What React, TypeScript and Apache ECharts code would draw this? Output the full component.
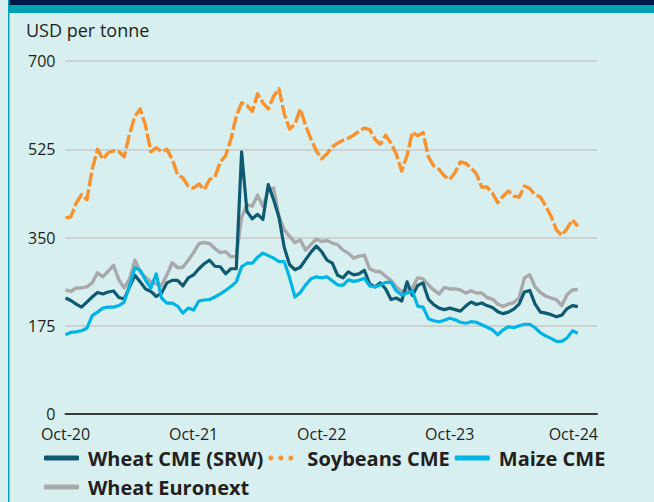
import React, { useEffect, useRef } from "react";
import * as echarts from "echarts";

// Half-monthly readings from Oct-2020 (index 0) to Oct-2024 (index 96), USD per tonne
const wheatCME = [
  230, 225, 218, 212, 222, 232, 241, 238, 242, 244, 231, 228, 252, 275, 262, 248, 243, 233, 240, 260,
  265, 265, 254, 270, 276, 288, 298, 305, 293, 292, 278, 288, 288, 520, 402, 387, 396, 386, 455, 425,
  390, 330, 296, 286, 291, 306, 321, 333, 322, 305, 299, 275, 270, 282, 276, 278, 285, 258, 252, 260,
  248, 227, 230, 224, 262, 235, 255, 260, 228, 217, 210, 207, 210, 207, 204, 214, 222, 217, 220, 215,
  211, 203, 199, 202, 208, 218, 242, 245, 218, 202, 200, 197, 193, 196, 209, 215, 213,
];
const soybeansCME = [
  389, 391, 418, 435, 425, 485, 525, 505, 518, 522, 520, 510, 555, 590, 605, 572, 520, 528, 520, 525,
  505, 475, 468, 452, 448, 456, 445, 465, 470, 500, 512, 545, 590, 617, 612, 600, 635, 617, 605, 630,
  645, 595, 565, 575, 605, 572, 545, 522, 506, 516, 530, 537, 543, 547, 553, 561, 567, 564, 545, 535,
  553, 537, 515, 482, 512, 559, 552, 558, 510, 492, 485, 472, 465, 479, 500, 497, 488, 476, 450, 450,
  438, 419, 432, 442, 432, 430, 452, 447, 435, 430, 412, 392, 365, 354, 368, 385, 372,
];
const maizeCME = [
  157, 162, 163, 165, 170, 195, 202, 210, 212, 212, 215, 222, 255, 290, 285, 265, 250, 278, 230, 220,
  220, 214, 200, 210, 206, 224, 226, 227, 232, 238, 245, 253, 262, 292, 299, 299, 311, 319, 314, 309,
  302, 302, 270, 232, 241, 256, 268, 272, 270, 272, 264, 256, 255, 266, 263, 265, 269, 254, 252, 256,
  261, 261, 244, 236, 240, 244, 214, 212, 189, 185, 183, 186, 190, 187, 182, 180, 183, 182, 177, 172,
  167, 157, 167, 173, 171, 175, 178, 178, 171, 161, 155, 150, 144, 144, 151, 165, 160,
];
const wheatEuronext = [
  246, 243, 250, 250, 252, 260, 280, 272, 283, 295, 266, 250, 268, 305, 282, 271, 262, 258, 255, 276,
  300, 290, 291, 305, 320, 338, 340, 338, 328, 320, 322, 312, 312, 390, 415, 412, 434, 412, 444, 448,
  392, 365, 352, 340, 345, 325, 336, 347, 342, 344, 339, 336, 325, 319, 309, 313, 315, 288, 283, 282,
  273, 265, 252, 243, 246, 250, 270, 268, 256, 246, 238, 251, 248, 248, 246, 240, 244, 240, 240, 231,
  228, 218, 213, 218, 221, 230, 270, 276, 252, 241, 234, 230, 227, 215, 237, 246, 247,
];
const yTicks = [0, 175, 350, 525, 700];
const xTickLabels = ["Oct-20", "Oct-21", "Oct-22", "Oct-23", "Oct-24"];
const seriesNames = ["Wheat CME (SRW)", "Soybeans CME", "Maize CME", "Wheat Euronext"];

const toPairs = (arr: number[]) => arr.map((v, i) => [i * 0.5, v]);

const FONT = "'Open Sans', 'Noto Sans', sans-serif";
const TXT = "#231f20";
const DOTS_ICON =
  "path://M2.5,0A2.5,2.5,0,1,1,2.49,0ZM12.5,0A2.5,2.5,0,1,1,12.49,0ZM22.5,0A2.5,2.5,0,1,1,22.49,0Z";

export default function App() {
  const ref = useRef<HTMLDivElement>(null);
  useEffect(() => {
    if (!ref.current) return;
    const chart = echarts.init(ref.current, null, { renderer: "svg" });
    const colors = {
      wheat: "#0f5a73",
      soy: "#f7922f",
      maize: "#00b4e6",
      euro: "#a9a9ab",
    };
    chart.setOption({
      animation: false,
      backgroundColor: "#d8efef",
      textStyle: { fontFamily: FONT },
      title: {
        text: "USD per tonne",
        left: 26,
        top: 21,
        padding: 0,
        textStyle: { fontFamily: FONT, fontSize: 18, fontWeight: "normal", color: TXT },
      },
      graphic: [
        { type: "rect", left: 9, top: 0, shape: { width: 645, height: 5 }, style: { fill: "#00184a" }, silent: true },
        { type: "rect", left: 9, top: 5, shape: { width: 645, height: 8 }, style: { fill: "#00a2b1" }, silent: true },
        { type: "rect", left: 8, top: 0, shape: { width: 1.5, height: 502 }, style: { fill: "#00a2b1" }, silent: true },
      ],
      grid: { left: 65.5, right: 57, top: 61, bottom: 88, containLabel: false },
      xAxis: {
        type: "value",
        min: 0,
        max: 49.8,
        interval: 12,
        axisLine: { show: true, lineStyle: { color: "#3a3a3a", width: 2 } },
        axisTick: { show: false },
        splitLine: { show: false },
        axisLabel: {
          margin: 12,
          fontSize: 16,
          lineHeight: 16,
          fontFamily: FONT,
          color: TXT,
          showMaxLabel: true,
          formatter: (v: number) => {
            if (Math.abs(v % 12) > 1e-6) return "";
            const idx = Math.round(v / 12);
            const t = xTickLabels[idx] ?? "";
            return idx === xTickLabels.length - 1 ? "{r|" + t + "}" : t;
          },
          rich: { r: { fontSize: 16, lineHeight: 16, fontFamily: FONT, color: TXT, padding: [0, 9, 0, 0] } },
        },
      },
      yAxis: {
        type: "value",
        min: yTicks[0],
        max: yTicks[yTicks.length - 1],
        interval: 175,
        axisLine: { show: false },
        axisTick: { show: false },
        splitLine: { show: true, lineStyle: { color: "#c8c8c8", width: 1.5 } },
        axisLabel: { margin: 10, fontSize: 16, lineHeight: 14, fontFamily: FONT, color: TXT },
      },
      legend: {
        left: 44,
        top: 446,
        width: 590,
        padding: 0,
        itemGap: 5,
        itemWidth: 35,
        itemHeight: 5,
        symbolKeepAspect: true,
        textStyle: { fontFamily: FONT, fontSize: 20, fontWeight: "bold", color: TXT, lineHeight: 24, padding: [0, 0, 0, 4] },
        data: [
          { name: seriesNames[0], icon: "roundRect", itemStyle: { color: "#0f5a73" } },
          { name: seriesNames[1], icon: DOTS_ICON, itemStyle: { color: "#f7922f" } },
          { name: seriesNames[2], icon: "roundRect", itemStyle: { color: "#00b4e6" } },
          { name: seriesNames[3], icon: "roundRect", itemStyle: { color: "#a9a9ab" } },
        ],
      },
      series: [
        {
          name: seriesNames[3],
          type: "line",
          data: toPairs(wheatEuronext),
          showSymbol: false,
          symbol: "none",
          color: colors.euro,
          lineStyle: { width: 3.4, color: colors.euro, join: "round" },
          z: 1,
        },
        {
          name: seriesNames[1],
          type: "line",
          data: toPairs(soybeansCME),
          showSymbol: false,
          symbol: "none",
          color: colors.soy,
          lineStyle: { width: 3.4, color: colors.soy, type: [14, 3], join: "round" },
          z: 2,
        },
        {
          name: seriesNames[0],
          type: "line",
          data: toPairs(wheatCME),
          showSymbol: false,
          symbol: "none",
          color: colors.wheat,
          lineStyle: { width: 3.2, color: colors.wheat, join: "round" },
          z: 3,
        },
        {
          name: seriesNames[2],
          type: "line",
          data: toPairs(maizeCME),
          showSymbol: false,
          symbol: "none",
          color: colors.maize,
          lineStyle: { width: 3.2, color: colors.maize, join: "round" },
          z: 4,
        },
      ],
    });
    return () => chart.dispose();
  }, []);
  return (
    <div style={{ position: "fixed", left: 0, top: 0, width: 654, height: 502 }}>
      <div ref={ref} style={{ width: 654, height: 502 }} />
    </div>
  );
}
